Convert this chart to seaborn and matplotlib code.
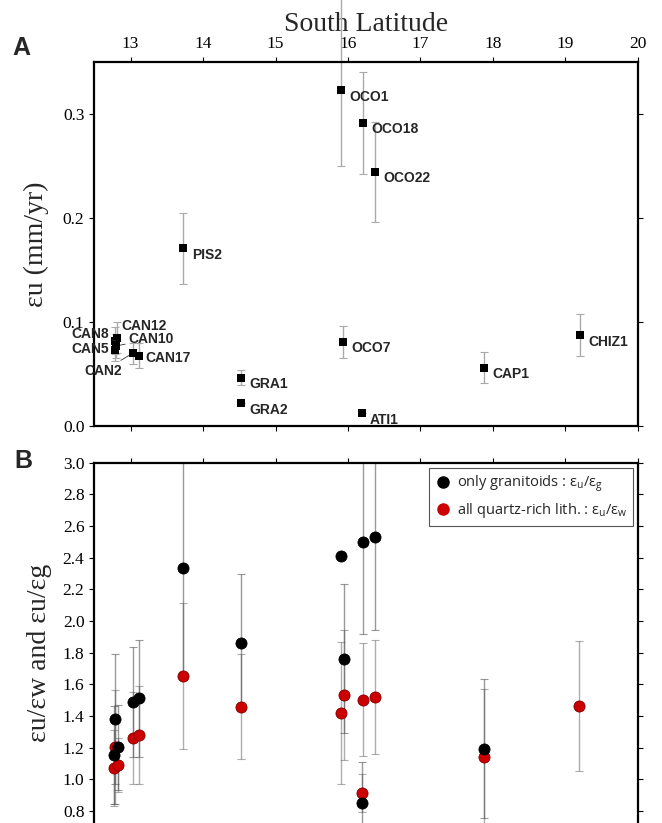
import matplotlib
matplotlib.use('Agg')
import matplotlib.pyplot as plt
from matplotlib.lines import Line2D
import seaborn as sns

# Panel A: uplift-derived strain rate per site
sites = ['CAN12', 'CAN8', 'CAN10', 'CAN5', 'CAN2', 'CAN17', 'PIS2', 'GRA1', 'GRA2',
         'OCO7', 'OCO1', 'OCO18', 'OCO22', 'ATI1', 'CAP1', 'CHIZ1']
lat = [12.82, 12.79, 12.80, 12.79, 13.03, 13.12, 13.73, 14.52, 14.52,
       15.93, 15.91, 16.21, 16.37, 16.19, 17.87, 19.20]
eps_u = [0.085, 0.082, 0.077, 0.073, 0.070, 0.0676, 0.171, 0.0464, 0.0218,
         0.081, 0.323, 0.2917, 0.2445, 0.0122, 0.056, 0.0875]
err_lo = [0.015, 0.013, 0.012, 0.010, 0.010, 0.012, 0.034, 0.007, 0.0,
          0.0155, 0.073, 0.049, 0.048, 0.0, 0.015, 0.020]
err_hi = [0.015, 0.013, 0.012, 0.010, 0.010, 0.012, 0.034, 0.007, 0.0,
          0.0155, 0.095, 0.049, 0.048, 0.0, 0.015, 0.020]

# Panel B: ratios
lat_g = [12.79, 12.77, 12.83, 13.03, 13.12, 13.73, 14.52, 15.90, 15.94, 16.21, 16.37, 16.19, 17.87]
ratio_g = [1.379, 1.153, 1.202, 1.488, 1.512, 2.333, 1.863, 2.41, 1.762, 2.501, 2.533, 0.852, 1.193]
err_g = [0.41, 0.31, 0.27, 0.345, 0.37, 0.667, 0.434, 0.0, 0.47, 0.585, 0.59, 0.255, 0.44]

lat_w = [12.79, 12.77, 12.83, 13.03, 13.12, 13.73, 14.52, 15.90, 15.94, 16.21, 16.37, 16.19, 17.87, 19.19]
ratio_w = [1.202, 1.069, 1.090, 1.263, 1.280, 1.653, 1.459, 1.417, 1.533, 1.503, 1.522, 0.911, 1.143, 1.465]
err_w = [0.36, 0.24, 0.17, 0.29, 0.31, 0.46, 0.33, 0.45, 0.41, 0.356, 0.36, 0.12, 0.43, 0.41]

lat_ticks = [13, 14, 15, 16, 17, 18, 19, 20]
a_ticks = [0.0, 0.1, 0.2, 0.3]
b_ticks = [0.6, 0.8, 1.0, 1.2, 1.4, 1.6, 1.8, 2.0, 2.2, 2.4, 2.6, 2.8, 3.0]

# label offsets (points) for the crowded CAN group
label_off = {
    'CAN12': (3, 8.4, 'left', False),
    'CAN8': (-4.5, 5.0, 'right', True),
    'CAN10': (9, 5, 'left', True),
    'CAN5': (-4.5, 0.5, 'right', False),
    'CAN2': (-21, -12.5, 'center', True),
    'CAN17': (4.1, -1.3, 'left', False),
}

SERIF = 'Liberation Serif'


def style_axes(ax, yticks):
    for sp in ax.spines.values():
        sp.set_linewidth(1.6)
        sp.set_color('black')
    ax.set_xlim(12.5, 20)
    ax.set_xticks(lat_ticks)
    ax.set_xticklabels([str(t) for t in lat_ticks], fontfamily=SERIF, fontsize=12.5)
    ax.set_yticks(yticks)
    ax.set_yticklabels(['%.1f' % t for t in yticks], fontfamily=SERIF, fontsize=12.5)
    ax.tick_params(direction='out', length=3.6, width=0.8,
                   top=True, right=True, colors='black')
    ax.grid(False)


def main():
    sns.set_style('ticks')
    plt.rcParams['font.family'] = [SERIF, 'DejaVu Serif']
    plt.rcParams['mathtext.fontset'] = 'custom'
    plt.rcParams['mathtext.rm'] = 'Open Sans'

    fig = plt.figure(figsize=(6.62, 8.23), dpi=100)
    ax1 = fig.add_axes([0.1424, 0.4824, 0.8213, 0.4419])
    ax2 = fig.add_axes([0.1424, -0.0238, 0.8213, 0.4616])

    # ---- panel A
    ax1.errorbar(lat, eps_u, yerr=[err_lo, err_hi], fmt='none', ecolor='#aaaaaa',
                 elinewidth=1, capsize=3.2, capthick=0.8, clip_on=False, zorder=2)
    sns.scatterplot(x=lat, y=eps_u, marker='s', color='black', s=36, linewidth=0,
                    ax=ax1, zorder=3, clip_on=False)
    for name, x, y in zip(sites, lat, eps_u):
        dx, dy, ha, leader = label_off.get(name, (6, -4.7, 'left', False))
        ax1.annotate(name, (x, y), xytext=(dx, dy), textcoords='offset points',
                     ha=ha, va='center', fontsize=10, fontweight='bold',
                     family='Liberation Sans', zorder=4,
                     arrowprops=dict(arrowstyle='-', lw=0.6, color='#333333',
                                     shrinkA=0, shrinkB=3) if leader else None)
    ax1.set_ylim(0, 0.35)
    style_axes(ax1, a_ticks)
    ax1.tick_params(labeltop=True, labelbottom=False)
    ax1.xaxis.set_label_position('top')
    ax1.set_xlabel('South Latitude', fontsize=20, labelpad=4)
    ax1.set_ylabel('εu (mm/yr)', fontsize=20, labelpad=10)

    # ---- panel B
    ax2.errorbar(lat_w, ratio_w, yerr=err_w, fmt='none', ecolor='#777777', alpha=0.6,
                 elinewidth=1, capsize=3.2, capthick=0.8, zorder=2)
    ax2.errorbar(lat_g, ratio_g, yerr=err_g, fmt='none', ecolor='#555555', alpha=0.6,
                 elinewidth=1, capsize=3.2, capthick=0.8, zorder=2)
    sns.scatterplot(x=lat_w, y=ratio_w, marker='o', color='#cc0000', s=64,
                    edgecolor='#800000', linewidth=0.6, ax=ax2, zorder=3)
    sns.scatterplot(x=lat_g, y=ratio_g, marker='o', color='black', s=64,
                    edgecolor='black', linewidth=0.6, ax=ax2, zorder=4)
    ax2.set_ylim(0.6, 3.0)
    style_axes(ax2, b_ticks)
    ax2.tick_params(labeltop=False, labelbottom=False)
    ax2.set_ylabel('εu/εw and εu/εg', fontsize=20, labelpad=8)

    handles = [
        Line2D([], [], marker='o', ls='none', color='black', markersize=8),
        Line2D([], [], marker='o', ls='none', color='#cc0000', markersize=8),
    ]
    leg = ax2.legend(handles,
                     [r'only granitoids : $\mathrm{ε_u/ε_g}$',
                      r'all quartz-rich lith. : $\mathrm{ε_u/ε_w}$'],
                     loc='upper right', frameon=True, fancybox=False, framealpha=1,
                     borderaxespad=0.35, handletextpad=0.3, handlelength=1.2,
                     labelspacing=0.45, prop={'family': 'Open Sans', 'size': 10.5})
    leg.get_frame().set_edgecolor('#555555')
    leg.get_frame().set_linewidth(0.8)

    fig.text(0.033, 0.942, 'A', fontsize=18, fontweight='bold', family='Liberation Sans',
             ha='center', va='center')
    fig.text(0.036, 0.44, 'B', fontsize=18, fontweight='bold', family='Liberation Sans',
             ha='center', va='center')

    fig.savefig('out.png', dpi=100)


if __name__ == '__main__':
    main()
